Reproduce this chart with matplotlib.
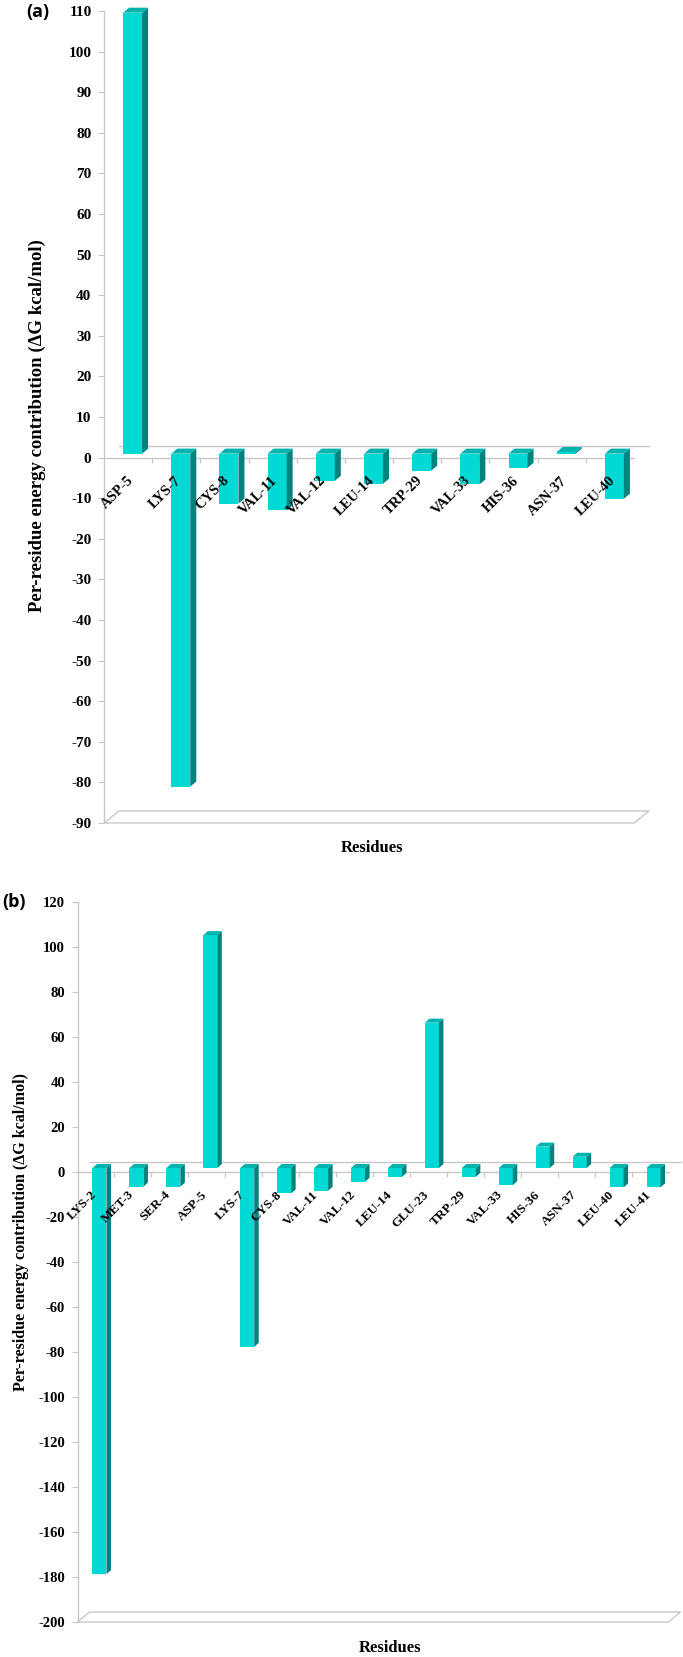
import matplotlib
matplotlib.use("Agg")
import matplotlib.pyplot as plt
from matplotlib.patches import Polygon
import numpy as np

# ---------------- data ----------------
residues_a = ['ASP-5', 'LYS-7', 'CYS-8', 'VAL-11', 'VAL-12', 'LEU-14',
              'TRP-29', 'VAL-33', 'HIS-36', 'ASN-37', 'LEU-40']
dg_a = [108.6, -82.0, -12.3, -14.0, -6.7, -7.4, -4.2, -7.6, -3.5, 0.4, -11.1]
yticks_a = list(range(-90, 111, 10))

residues_b = ['LYS-2', 'MET-3', 'SER-4', 'ASP-5', 'LYS-7', 'CYS-8', 'VAL-11',
              'VAL-12', 'LEU-14', 'GLU-23', 'TRP-29', 'VAL-33', 'HIS-36',
              'ASN-37', 'LEU-40', 'LEU-41']
dg_b = [-180.5, -8.3, -8.3, 103.5, -79.5, -11.3, -10.1, -6.1, -3.9, 64.6,
        -3.9, -7.6, 9.5, 5.0, -8.6, -8.6]
yticks_b = list(range(-200, 121, 20))

ylabel_text = 'Per-residue energy contribution (\u0394G kcal/mol)'
xlabel_text = 'Residues'

# ---------------- style ----------------
W, H = 683, 1657
FRONT = '#00D9D4'
SIDE = '#00827F'
TOP = '#00B3AF'
GRID = '#C8C8C8'
SERIF = ['Liberation Serif', 'DejaVu Serif']

fig = plt.figure(figsize=(W / 100, H / 100), dpi=100)


def fx(px):
    return px / W


def fy(py):
    return 1 - py / H


def panel(cats, vals, yticks, left, right, top, bottom, bar_w, bar_off,
          bar_depth, wall, tick_fs, cat_fs, cat_anchor, ylab, xlab, tag):
    n = len(cats)
    ymin, ymax = yticks[0], yticks[-1]
    ax = fig.add_axes([fx(left), fy(bottom), fx(right - left),
                       (bottom - top) / H])
    ax.set_xlim(0, n)
    ax.set_ylim(ymin, ymax)
    cpx = (right - left) / n            # pixels per category
    upx = (ymax - ymin) / (bottom - top)  # data units per pixel (y)
    X = lambda p: p / cpx
    Y = lambda p: p * upx

    x = np.arange(n) + 0.5
    bx = x + X(bar_off[0])
    by = Y(bar_off[1])
    w = X(bar_w)
    sx, sy = X(bar_depth[0]), Y(bar_depth[1])

    # back zero line and floor
    wx, wy = X(wall[0]), Y(wall[1])
    ax.plot([0, n], [0, 0], color=GRID, lw=1.0, zorder=1, clip_on=False)
    ax.plot([wx, n + wx], [wy, wy], color=GRID, lw=1.0, zorder=1, clip_on=False)
    floor = Polygon([[0, ymin], [n, ymin], [n + wx, ymin + wy], [wx, ymin + wy]],
                    closed=True, fill=False, edgecolor=GRID, lw=1.0,
                    clip_on=False, zorder=1)
    ax.add_patch(floor)
    # category ticks on the zero line
    ax.vlines(np.arange(1, n + 1), Y(-5), 0, color=GRID, lw=1.0, zorder=1)

    # bars
    ax.bar(bx, vals, width=w, bottom=by, color=FRONT, zorder=3,
           edgecolor='none')
    for xi, v in zip(bx, vals):
        xl, xr = xi - w / 2, xi + w / 2
        y0, y1 = by, v + by
        side = Polygon([[xr, y0], [xr + sx, y0 + sy], [xr + sx, y1 + sy],
                        [xr, y1]], closed=True, color=SIDE, lw=0, zorder=3,
                       clip_on=False)
        ytop = max(y0, y1)
        topf = Polygon([[xl, ytop], [xl + sx, ytop + sy],
                        [xr + sx, ytop + sy], [xr, ytop]], closed=True,
                       color=TOP, lw=0, zorder=3, clip_on=False)
        ax.add_patch(side)
        ax.add_patch(topf)

    # axes styling
    for s in ['top', 'right', 'bottom']:
        ax.spines[s].set_visible(False)
    ax.spines['left'].set_color(GRID)
    ax.spines['left'].set_linewidth(1.0)
    ax.set_yticks(yticks)
    ax.set_yticklabels([str(t) for t in yticks], fontsize=tick_fs,
                       fontweight='bold', family=SERIF)
    ax.tick_params(axis='y', length=4, color=GRID, pad=5)
    ax.set_xticks([])
    ax.patch.set_alpha(0)

    # category labels
    for xi, c in zip(x, cats):
        ax.text(xi + X(cat_anchor[0]), Y(-cat_anchor[1]), c, rotation=45,
                rotation_mode='anchor', ha='right', va='center',
                fontsize=cat_fs, fontweight='bold', family=SERIF, zorder=5)

    # labels
    fig.text(fx(ylab[0]), fy(ylab[1]), ylabel_text, rotation=90,
             ha='center', va='center', fontsize=ylab[2], fontweight='bold',
             family=SERIF)
    fig.text(fx(xlab[0]), fy(xlab[1]), xlabel_text, ha='center',
             va='center', fontsize=xlab[2], fontweight='bold', family=SERIF)
    fig.text(fx(tag[0]), fy(tag[1]), tag[2], ha='left', va='center',
             fontsize=tag[3], fontweight='bold', family=['Open Sans', 'DejaVu Sans'])
    return ax


panel(residues_a, dg_a, yticks_a, left=104, right=634, top=11, bottom=823,
      bar_w=19, bar_off=(4.5, 4), bar_depth=(6, 5), wall=(15, 12),
      tick_fs=11, cat_fs=10.5, cat_anchor=(3, 21),
      ylab=(37, 426, 13.5), xlab=(372, 848, 12), tag=(26, 12, '(a)', 13))

panel(residues_b, dg_b, yticks_b, left=77.5, right=668.5, top=902,
      bottom=1622, bar_w=14, bar_off=(3.5, 4), bar_depth=(4.5, 4),
      wall=(12, 10), tick_fs=10.5, cat_fs=9.5, cat_anchor=(-1, 21),
      ylab=(21, 1232, 11.5), xlab=(390, 1648, 12), tag=(2, 902, '(b)', 13))

fig.savefig('out.png', dpi=100)
